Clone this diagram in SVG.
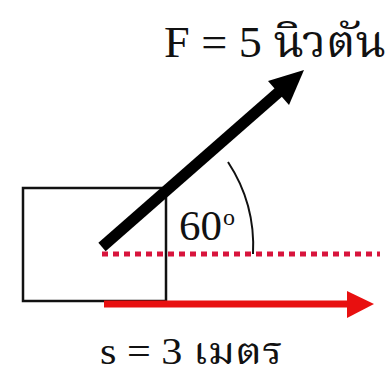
<svg xmlns="http://www.w3.org/2000/svg" width="392" height="374" viewBox="0 0 392 374">
<style>
.t{font-family:"Liberation Serif","Noto Serif Thai","Noto Serif","Noto Sans",serif;fill:#111}
</style>
<rect width="392" height="374" fill="#fff"/>
<g id="block"><rect x="23" y="188" width="143" height="113" fill="none" stroke="#111" stroke-width="2.5"/></g>
<g id="connectors">
<line x1="102" y1="254" x2="380" y2="254" stroke="#d8143c" stroke-width="5" stroke-dasharray="6 5"/>
<path d="M228,162 A153,153 0 0 1 253,254" fill="none" stroke="#111" stroke-width="2"/>
<line x1="102" y1="247" x2="280" y2="91" stroke="#000" stroke-width="11"/>
<polygon points="304,70 289,105 268,81" fill="#000"/>
<line x1="104" y1="304" x2="350" y2="304" stroke="#e81010" stroke-width="7"/>
<polygon points="347,291 374,304 347,318" fill="#e81010"/>
</g>
<g id="labels">
<text class="t" x="164" y="57" font-size="44" textLength="222" lengthAdjust="spacingAndGlyphs">F = 5 นิวตัน</text>
<text class="t" x="179" y="240" font-size="43">60</text>
<text class="t" x="223" y="225" font-size="24">o</text>
<text class="t" x="100" y="364" font-size="38" textLength="183" lengthAdjust="spacingAndGlyphs">s = 3 เมตร</text>
</g>
</svg>
